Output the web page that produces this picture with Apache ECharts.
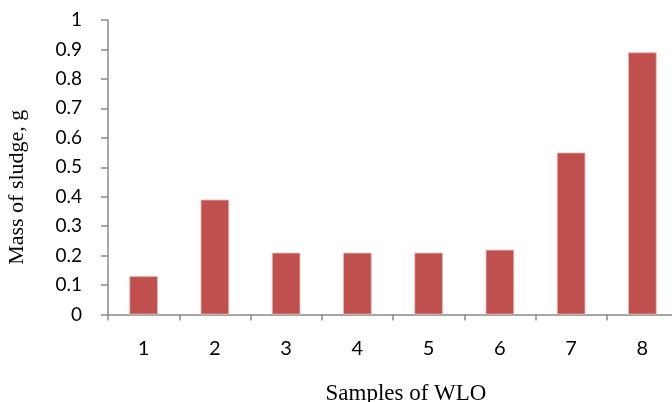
<!DOCTYPE html>
<html>
<head>
<meta charset="utf-8">
<script src="https://cdn.jsdelivr.net/npm/echarts@6/dist/echarts.min.js"></script>
<style>
html, body { margin: 0; padding: 0; background: #fff; }
#container { width: 672px; height: 402px; }
</style>
</head>
<body>
<div id="container"></div>
<script>
var categories = ['1', '2', '3', '4', '5', '6', '7', '8'];
var sludgeMass = [0.13, 0.39, 0.21, 0.21, 0.21, 0.22, 0.55, 0.89];

var axisGray = '#898989';

var myChart = echarts.init(document.getElementById('container'));
myChart.setOption({
    animation: false,
    grid: { left: 108, top: 20, width: 570, height: 294.5, containLabel: false, outerBoundsMode: 'none' },
    xAxis: {
        type: 'category',
        data: categories,
        name: 'Samples of WLO',
        nameLocation: 'middle',
        nameGap: 68,
        nameTextStyle: { fontFamily: 'Liberation Serif', fontSize: 23, color: '#000', padding: [0, 0, 0, 26] },
        axisLine: { lineStyle: { color: axisGray, width: 1.5 } },
        axisTick: { show: true, length: 6, lineStyle: { color: axisGray, width: 1.5 } },
        axisLabel: { margin: 24, fontFamily: 'Lato', fontSize: 20, color: '#000' }
    },
    yAxis: {
        type: 'value',
        min: 0,
        max: 1,
        interval: 0.1,
        name: 'Mass of sludge, g',
        nameLocation: 'middle',
        nameGap: 80,
        nameTextStyle: { fontFamily: 'Liberation Serif', fontSize: 22, color: '#000', padding: [0, 40, 0, 0] },
        axisLine: { show: true, lineStyle: { color: axisGray, width: 1.5 } },
        axisTick: { show: true, length: 7, lineStyle: { color: axisGray, width: 1.5 } },
        splitLine: { show: false },
        axisLabel: { margin: 26, fontFamily: 'Lato', fontSize: 19, color: '#000' }
    },
    series: [
        {
            type: 'bar',
            data: sludgeMass,
            barWidth: '40%',
            itemStyle: { color: '#C0504D', borderColor: '#E8B8B7', borderWidth: 0.8 }
        }
    ]
});
</script>
</body>
</html>
